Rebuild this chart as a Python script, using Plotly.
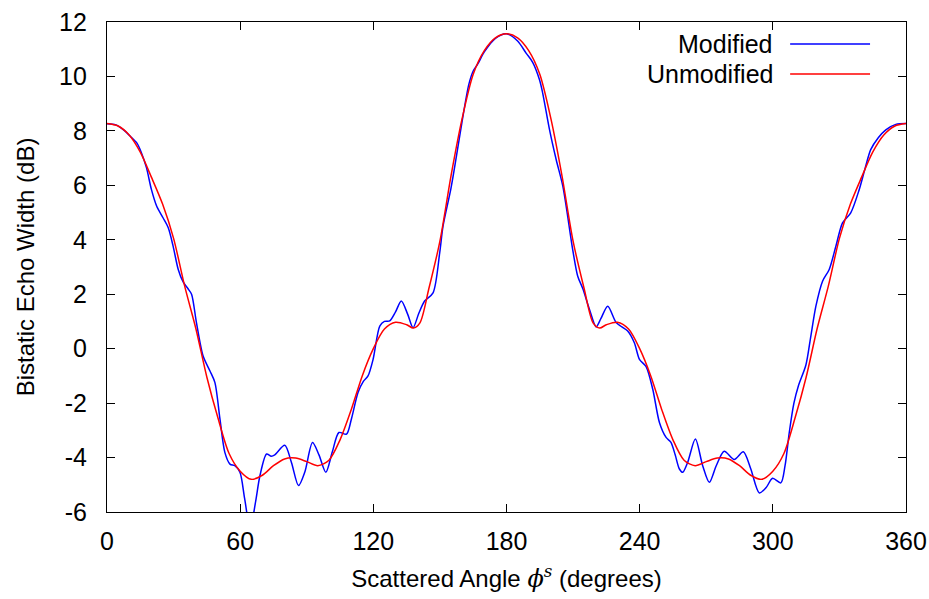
import plotly.graph_objects as go

# Unmodified (red) curve
red_phi = [0, 5, 10, 15, 20, 25, 30, 35, 40, 45, 50, 55, 60, 65, 70, 75, 80, 85, 90, 95,
           100, 105, 110, 115, 120, 125, 130, 135, 138, 141, 145, 150, 155, 160, 165, 170, 175, 180,
           185, 190, 195, 200, 205, 210, 215, 219, 222, 225, 230, 235, 240, 245, 250, 255, 260,
           265, 270, 275, 280, 285, 290, 295, 300, 305, 310, 315, 320, 325, 330, 335, 340, 345,
           350, 355, 360]
red_db = [8.27, 8.18, 7.85, 7.22, 6.3, 5.32, 4.05, 2.3, 0.75, -1.05, -2.55, -3.85, -4.5, -4.8,
          -4.65, -4.3, -4.05, -4.02, -4.15, -4.3, -4.1, -3.35, -2.25, -1.0, 0.0, 0.72, 0.97, 0.88,
          0.76, 0.95, 2.2, 3.95, 6.35, 8.45, 10.08, 10.95, 11.42, 11.57,
          11.42, 10.95, 10.08, 8.45, 6.35, 3.95, 2.2, 0.95, 0.76, 0.88, 0.97, 0.72, 0.0, -1.0,
          -2.25, -3.35, -4.1, -4.3, -4.15, -4.02, -4.05, -4.3, -4.65, -4.8, -4.5, -3.85, -2.55,
          -1.05, 0.75, 2.3, 4.05, 5.32, 6.3, 7.22, 7.85, 8.18, 8.27]

# Modified (blue) curve
blue_phi = [0, 4, 8, 10.5, 13.5, 15.5, 17.8, 20, 22.4, 25.3, 27.6, 29.8, 32.1, 34.3, 36.5, 38.1,
            40.3, 43.3, 46.4, 48.6, 50.9, 53.1, 55.4, 57.6, 59.9, 62.0, 64.5, 67.0, 68.9, 71.9,
            74.0, 75.6, 80.1, 83.1, 86.3, 89.1, 92.6, 95.5, 98.6, 101.5, 104.5, 107.9, 110.1,
            113.1, 115.5, 117.6, 119.9, 122.9, 125.0, 127.4, 130.0, 132.6, 135.5, 137.9, 140.5,
            143.1, 146.9, 149.9, 151.4, 155.0, 157.5, 160.0, 163.0, 165.0, 167.0, 170.0, 175.0,
            180.0, 185.0, 188.9, 191.8, 194.9, 196.3, 199.4, 202.4, 205.4, 209.9, 212.1, 214.4,
            217.4, 220.4, 222.5, 225.6, 229.4, 232.0, 234.6, 237.6, 239.9, 242.9, 245.9, 248.9,
            251.9, 254.1, 256.0, 257.9, 259.4, 261.6, 265.1, 268.4, 271.4, 274.5, 278.1, 282.6,
            286.7, 290.0, 293.9, 297.0, 299.9, 303.6, 305.5, 307.4, 309.5, 311.5, 314.9, 317.0,
            319.4, 322.4, 325.4, 328.4, 331.4, 335.1, 338.9, 341.5, 344.1, 347.5, 350.9, 355.4,
            360.0]
blue_db = [8.26, 8.22, 8.0, 7.8, 7.55, 7.2, 6.64, 5.85, 5.23, 4.8, 4.44, 3.76, 2.91, 2.45, 2.2,
           2.0, 0.96, -0.27, -0.82, -1.24, -2.59, -3.81, -4.24, -4.3, -4.54, -5.5, -6.6, -5.6,
           -4.67, -3.87, -3.95, -3.9, -3.55, -4.18, -5.03, -4.54, -3.45, -3.9, -4.54, -3.8,
           -3.08, -3.14, -2.59, -1.61, -1.2, -1.0, -0.39, 0.83, 1.0, 1.02, 1.35, 1.75, 1.26,
           0.77, 1.3, 1.75, 2.05, 3.52, 4.5, 5.9, 7.1, 8.35, 9.7, 10.2, 10.45, 10.9, 11.4,
           11.57, 11.3, 10.85, 10.52, 9.87, 9.39, 8.04, 6.94, 5.96, 3.6, 2.66, 2.2, 1.44, 0.8,
           1.1, 1.56, 0.96, 0.8, 0.65, 0.22, -0.39, -0.66, -1.49, -2.71, -3.26, -3.44, -3.9,
           -4.42, -4.54, -4.18, -3.32, -4.3, -4.91, -4.3, -3.77, -4.07, -3.79, -4.4, -5.3, -5.1,
           -4.76, -4.93, -4.3, -3.08, -2.0, -1.37, -0.6, 0.4, 1.56, 2.48, 2.91, 3.76, 4.62, 4.99,
           5.84, 6.6, 7.31, 7.75, 8.04, 8.24, 8.27]

x_ticks = [0, 60, 120, 180, 240, 300, 360]
y_ticks = [-6, -4, -2, 0, 2, 4, 6, 8, 10, 12]

FONT = "Liberation Sans, Arial, Helvetica, sans-serif"

fig = go.Figure()
fig.add_trace(go.Scatter(x=blue_phi, y=blue_db, mode="lines", name="Modified",
                         line=dict(color="#0000ff", width=1.5, shape="spline", smoothing=0.8)))
fig.add_trace(go.Scatter(x=red_phi, y=red_db, mode="lines", name="Unmodified",
                         line=dict(color="#ff0000", width=1.5, shape="spline", smoothing=0.8)))

axis_common = dict(showline=True, linecolor="black", linewidth=1.2, mirror="allticks",
                   ticks="inside", ticklen=8, tickwidth=1, tickcolor="black",
                   showgrid=False, zeroline=False, automargin=False,
                   tickfont=dict(family=FONT, size=25, color="black"))

fig.update_xaxes(range=[0, 360], tickvals=x_ticks, ticktext=[str(v) for v in x_ticks],
                 ticklabelstandoff=7,
                 title=dict(text="Scattered Angle <span style=\"font-family:'DejaVu Serif'\"><i>ϕ</i><sup><i>s</i></sup></span> (degrees)",
                            font=dict(family=FONT, size=24, color="black"), standoff=16),
                 **axis_common)
fig.update_yaxes(range=[-6, 12], tickvals=y_ticks, ticktext=[str(v) for v in y_ticks],
                 ticklabelstandoff=14,
                 title=dict(text="Bistatic Echo Width (dB)",
                            font=dict(family=FONT, size=24, color="black"), standoff=17),
                 **axis_common)

# Legend drawn gnuplot-style (text right, sample to the right)
legend_items = [("Modified", "#0000ff", 0.955), ("Unmodified", "#ff0000", 0.894)]
for label, color, yp in legend_items:
    fig.add_annotation(x=0.836, y=yp, xref="paper", yref="paper", text=label, showarrow=False,
                       xanchor="right", yanchor="middle",
                       font=dict(family=FONT, size=25, color="black"))
    fig.add_shape(type="line", xref="paper", yref="paper", x0=0.855, x1=0.955, y0=yp, y1=yp,
                  line=dict(color=color, width=1.5))

fig.update_layout(width=929, height=599, showlegend=False,
                  margin=dict(l=107, r=23, t=22, b=87),
                  paper_bgcolor="white", plot_bgcolor="white")

fig.write_html("out.html")
